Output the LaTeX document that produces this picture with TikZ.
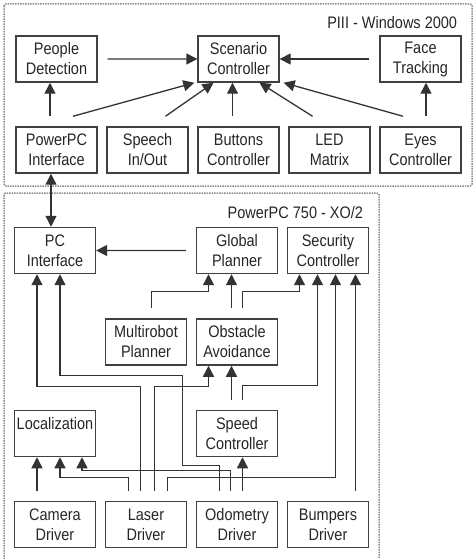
\documentclass[tikz,border=0pt]{standalone}
\usepackage{fontspec}
\setmainfont{Liberation Sans}
\usepackage{tikz}
\usetikzlibrary{arrows.meta,positioning}

\begin{document}
\begin{tikzpicture}[x=1pt,y=1pt,->,>={Triangle[length=11pt,width=11pt]},node distance=91pt,line width=1.3pt,draw=black!80,
    font=\fontsize{14.5pt}{17.4pt}\selectfont,
    box node/.style={rectangle,draw=black!75,line width=1.3pt,minimum width=81pt,minimum height=40pt,inner sep=0pt,align=center,text=black!85,yscale=1.15,transform shape},
    title node/.style={anchor=east,text=black!85,yscale=1.15,transform shape},
    frame/.style={draw=black!45,densely dotted,line width=1.5pt,rounded corners=2pt},
    gap/.style={shorten <=10pt}]
  \useasboundingbox (0,0) rectangle (474,-559);
  \draw[-,frame] (4,-4) rectangle (472,-186);
  \draw[-,frame] (4,-193) rectangle (379,-570);
  \node[title node] (pIII) at (461,-23) {PIII - Windows 2000};
  \node[title node] (xo) at (367,-213) {PowerPC 750 - XO/2};

  % PIII side (vertical steps are 91pt / 1.15)
  \node[box node] (ppc) at (56.5,-150) {PowerPC\\Interface};
  \node[box node] (spe) [right of=ppc] {Speech\\In/Out};
  \node[box node] (btn) [right of=spe] {Buttons\\Controller};
  \node[box node] (led) [right of=btn] {LED\\Matrix};
  \node[box node] (eye) [right of=led] {Eyes\\Controller};
  \node[box node] (ppd) [above of=ppc,node distance=79.13pt] {People\\Detection};
  \node[box node] (scn) [above of=btn,node distance=79.13pt] {Scenario\\Controller};
  \node[box node] (fac) [above of=eye,node distance=79.13pt] {Face\\Tracking};

  \draw[gap] (ppd) -- (scn);
  \draw[gap] (fac) -- (scn);
  \draw[gap] ([xshift=-6.5]ppc.north) -- ([xshift=-6.5]ppd.south);
  \draw[gap] ([xshift=5.5]eye.north) -- ([xshift=5.5]fac.south);
  \draw ([xshift=16.5,yshift=10]ppc.north) -- ([xshift=-3]scn.south west);
  \draw ([xshift=18,yshift=10]spe.north) -- ([xshift=-25]scn.south);
  \draw[gap] ([xshift=-6]btn.north) -- ([xshift=-6]scn.south);
  \draw ([xshift=-17,yshift=10]led.north) -- ([xshift=21]scn.south);
  \draw ([xshift=-17.5,yshift=10]eye.north) -- ([xshift=4]scn.south east);

  % PowerPC 750 side
  \node[box node] (pci) at (55,-250.5) {PC\\Interface};
  \node[box node] (gpl) [right of=pci,node distance=182pt] {Global\\Planner};
  \node[box node] (sec) [right of=gpl] {Security\\Controller};
  \node[box node] (obs) [below of=gpl,node distance=79.57pt] {Obstacle\\Avoidance};
  \node[box node] (mrp) [left of=obs] {Multirobot\\Planner};
  \node[box node] (spd) [below of=obs,node distance=79.57pt] {Speed\\Controller};
  \node[box node] (loc) [below of=pci,node distance=159.13pt] {Localization\\\mbox{}};
  \node[box node] (cam) [below of=loc,node distance=79.13pt] {Camera\\Driver};
  \node[box node] (lsr) [right of=cam] {Laser\\Driver};
  \node[box node] (odo) [right of=lsr] {Odometry\\Driver};
  \node[box node] (bmp) [right of=odo] {Bumpers\\Driver};

  \draw[<->] ([xshift=-5.5]ppc.south) -- ([xshift=-5.5]ppc.south |- pci.north);
  \draw[gap] (gpl) -- (pci);
  \draw[gap] ([xshift=5.5]mrp.north) -- ++(0,27) -| ([xshift=-28.5]gpl.south);
  \draw[gap] ([xshift=-5.5]obs.north) -- ([xshift=-5.5]gpl.south);
  \draw[gap] ([xshift=5.5]obs.north) -- ++(0,27) -| ([xshift=-28.5]sec.south);
  \draw[gap] ([xshift=-5.5]spd.north) -- ([xshift=-5.5]obs.south);
  \draw[gap] ([xshift=5.5]spd.north) -- ++(0,24) -| ([xshift=-10.5]sec.south);
  \draw[gap] ([xshift=-5.5]lsr.north) -- ++(0,114) -| ([xshift=-18]pci.south);
  \draw[gap] ([xshift=8.5]lsr.north) -- ++(0,114) -| ([xshift=-28.5]obs.south);
  \draw[gap] ([xshift=21.5]lsr.north) -- ++(0,23) -| ([xshift=7.5]sec.south);
  \draw[gap] ([xshift=-17.5]lsr.north) -- ++(0,23) -| ([xshift=5]loc.south);
  \draw[gap] ([xshift=-18]cam.north) -- ([xshift=-18]loc.south);
  \draw[gap] ([xshift=-6.5]odo.north) -- ++(0,30) -| ([xshift=27]loc.south);
  \draw[gap] ([xshift=-17.5]odo.north) -- ++(0,35) -| ++(-37,90) -| ([xshift=5]pci.south);
  \draw[gap] ([xshift=5.5]odo.north) -- ([xshift=5.5]spd.south);
  \draw[gap] ([xshift=27.5]bmp.north) -- ([xshift=27.5]sec.south);
\end{tikzpicture}
\end{document}
